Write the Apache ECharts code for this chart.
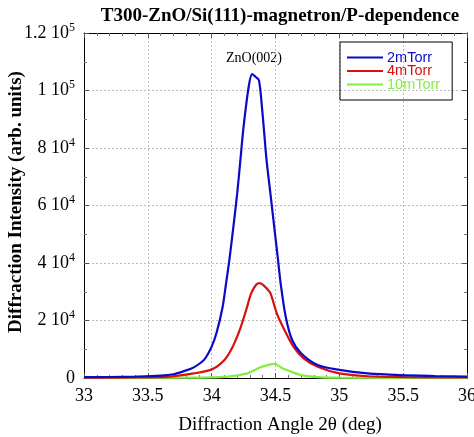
<!DOCTYPE html>
<html><head><meta charset="utf-8">
<script src="https://cdn.jsdelivr.net/npm/echarts@6/dist/echarts.min.js"></script>
<style>html,body{margin:0;padding:0;background:#fff}#c{width:474px;height:437px}</style>
</head><body><div id="c"></div>
<script>
const seriesNames = ['2mTorr', '4mTorr', '10mTorr'];
const seriesColors = ['#0a0ac8', '#d81010', '#80f040'];
// angle (deg) and intensity (thousands)
const blueX = [33.0,33.2,33.4,33.6,33.7,33.79,33.86,33.94,34.0,34.04,34.085,34.11,34.14,34.17,34.2,34.225,34.25,34.29,34.317,34.343,34.37,34.396,34.43,34.46,34.49,34.52,34.54,34.58,34.63,34.70,34.83,35.0,35.22,35.48,35.75,36.0];
const blueY = [0.3,0.35,0.5,0.8,1.3,2.5,3.7,6.3,10.9,16.0,24.5,32,41.5,52.6,64.2,75.8,87.4,101.3,105.7,104.8,103.6,93.2,75.8,64.2,52.6,41,33,21.3,13.2,8.6,4.5,2.8,1.6,1.0,0.7,0.5];
const redX = [33.0,33.4,33.65,33.86,34.0,34.1,34.165,34.22,34.27,34.31,34.35,34.375,34.4,34.43,34.46,34.51,34.57,34.64,34.72,34.83,35.0,35.22,35.5,36.0];
const redY = [0.1,0.2,0.4,1.6,3.0,6.3,10.9,16.7,23.6,29.5,32.5,33,32.5,31.2,29.5,22.5,16.7,10.9,6.8,3.9,1.6,0.6,0.3,0.2];
const greenX = [33.0,33.8,34.0,34.13,34.2,34.28,34.33,34.38,34.43,34.49,34.52,34.55,34.6,34.7,34.83,35.0,36.0];
const greenY = [0.05,0.1,0.2,0.5,0.9,1.6,2.6,3.7,4.4,4.9,4.4,3.5,2.6,1.0,0.3,0.1,0.05];
const yTickValues = [0, 20000, 40000, 60000, 80000, 100000, 120000];
const yTickMantissa = ['0', '2', '4', '6', '8', '1', '1.2'];
const yTickExponent = ['', '4', '4', '4', '4', '5', '5'];
const xTicks = [33, 33.5, 34, 34.5, 35, 35.5, 36];

const pairs = (xs, ys) => xs.map((x, i) => [x, ys[i] * 1000]);
const allX = [blueX, redX, greenX], allY = [blueY, redY, greenY];

const chart = echarts.init(document.getElementById('c'));
const serif = '"Liberation Serif", "Times New Roman", serif';
const axisCommon = {
  axisLine: { show: true, onZero: false, lineStyle: { color: '#000', width: 1 } },
  axisTick: { show: true, inside: true, length: 5, lineStyle: { color: '#555' } },
  minorTick: { show: true, length: 3, lineStyle: { color: '#777' } },
};
chart.setOption({
  animation: false,
  backgroundColor: '#fff',
  title: {
    text: 'T300-ZnO/Si(111)-magnetron/P-dependence',
    left: 275, top: 2, textAlign: 'center',
    textStyle: { fontFamily: serif, fontWeight: 'bold', fontSize: 19, color: '#000' }
  },
  grid: { left: 84, right: 7, top: 33, bottom: 59, outerBoundsMode: 'none', containLabel: false },
  legend: {
    orient: 'vertical', left: 340, top: 42,
    borderColor: '#000', borderWidth: 1, padding: [8, 12, 8, 7],
    itemWidth: 36, itemHeight: 2, itemGap: -1.5,
    icon: 'rect',
    data: seriesNames.map((n, i) => ({ name: n, textStyle: { color: seriesColors[i] } })),
    textStyle: { fontFamily: 'Liberation Sans, Arial, sans-serif', fontSize: 14.5, lineHeight: 13, padding: [0, 0, 0, -1] }
  },
  xAxis: [{
    type: 'value', min: 33, max: 36, interval: 0.5,
    name: 'Diffraction Angle 2θ (deg)', nameLocation: 'middle', nameGap: 38,
    nameTextStyle: { fontFamily: serif, fontSize: 19, color: '#000', padding: [0, 0, 0, 9] },
    axisLabel: { fontFamily: serif, fontSize: 18, color: '#000', margin: 9,
      formatter: v => xTicks.includes(v) ? String(v) : '' },
    splitLine: { show: true, lineStyle: { color: '#bbb', type: [2, 2] } },
    ...axisCommon, minorTick: { ...axisCommon.minorTick, splitNumber: 5 }
  }, {
    type: 'value', min: 33, max: 36, interval: 0.5, position: 'top',
    axisLabel: { show: false }, splitLine: { show: false },
    ...axisCommon, minorTick: { ...axisCommon.minorTick, splitNumber: 5 }
  }],
  yAxis: [{
    type: 'value', min: 0, max: 120000, interval: 20000,
    axisLabel: {
      fontFamily: serif, fontSize: 18, color: '#000', margin: 9,
      formatter: v => {
        const i = yTickValues.indexOf(v);
        if (i < 0) return '';
        if (!yTickExponent[i]) return yTickMantissa[i];
        return yTickMantissa[i] + ' 10{sup|' + yTickExponent[i] + '}';
      },
      rich: { sup: { fontFamily: serif, fontSize: 12, color: '#000', padding: [0, 0, 11, 0] } }
    },
    splitLine: { show: true, lineStyle: { color: '#bbb', type: [2, 2] } },
    ...axisCommon, minorTick: { ...axisCommon.minorTick, splitNumber: 2 }
  }, {
    type: 'value', min: 0, max: 120000, interval: 20000, position: 'right',
    axisLabel: { show: false }, splitLine: { show: false },
    ...axisCommon, minorTick: { ...axisCommon.minorTick, splitNumber: 2 }
  }],
  graphic: [{
    type: 'text', left: 226, top: 51,
    style: { text: 'ZnO(002)', fontFamily: serif, fontSize: 14, fill: '#000' }
  }, {
    type: 'text', x: 16, y: 202, rotation: Math.PI / 2,
    style: { text: 'Diffraction Intensity (arb. units)', fontFamily: serif, fontSize: 19,
      fontWeight: 'bold', fill: '#000', align: 'center', verticalAlign: 'middle' }
  }],
  series: seriesNames.map((n, i) => ({
    name: n, type: 'line', showSymbol: false, smooth: 0.3,
    data: pairs(allX[i], allY[i]),
    lineStyle: { color: seriesColors[i], width: 2.2 },
    itemStyle: { color: seriesColors[i] },
    z: 10 - i
  }))
});
</script></body></html>
